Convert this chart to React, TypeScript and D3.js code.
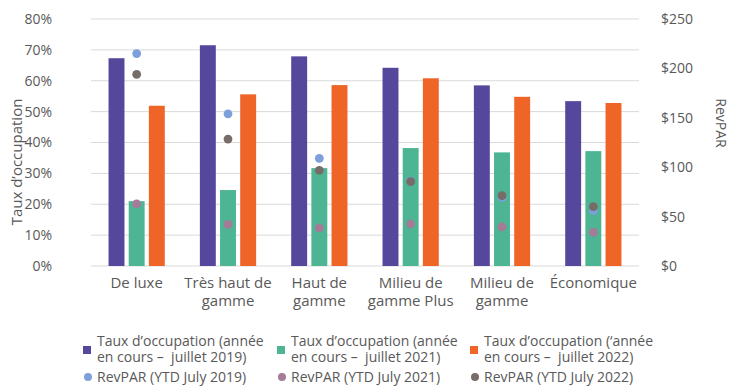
import React from "react";
import * as d3 from "d3";

const categories = ["De luxe", "Très haut de gamme", "Haut de gamme", "Milieu de gamme Plus", "Milieu de gamme", "Économique"];
const categoryLines = [["De luxe"], ["Très haut de", "gamme"], ["Haut de", "gamme"], ["Milieu de", "gamme Plus"], ["Milieu de", "gamme"], ["Économique"]];
const occ2019 = [67.3, 71.5, 67.9, 64.2, 58.5, 53.4];
const occ2021 = [21.0, 24.6, 31.7, 38.2, 36.8, 37.2];
const occ2022 = [51.9, 55.6, 58.6, 60.8, 54.8, 52.8];
const revpar2019 = [215, 154, 109, 86, 69.5, 56];
const revpar2021 = [62.8, 42.2, 38.5, 42.5, 39.5, 34.1];
const revpar2022 = [194, 128.5, 96.8, 85.3, 71.2, 60];
const leftTicks = [0, 10, 20, 30, 40, 50, 60, 70, 80];
const rightTicks = [0, 50, 100, 150, 200, 250];

const barSeries = [
  { key: "2019", values: occ2019, color: "#55489c", label: ["Taux d’occupation (année", "en cours –\u00a0 juillet 2019)"] },
  { key: "2021", values: occ2021, color: "#4db594", label: ["Taux d’occupation (année", "en cours –\u00a0 juillet 2021)"] },
  { key: "2022", values: occ2022, color: "#ef6527", label: ["Taux d’occupation (‘année", "en cours –\u00a0 juillet 2022)"] },
];
const dotSeries = [
  { key: "r2019", values: revpar2019, color: "#7d9fda", label: "RevPAR (YTD July 2019)" },
  { key: "r2021", values: revpar2021, color: "#a67b98", label: "RevPAR (YTD July 2021)" },
  { key: "r2022", values: revpar2022, color: "#786c69", label: "RevPAR (YTD July 2022)" },
];

const W = 730, H = 388;
const left = 91, right = 639, top = 19, bottom = 266;
const font = "'Open Sans', sans-serif";
const textColor = "#595959";

export default function App() {
  const x0 = d3.scaleBand<string>().domain(categories).range([left, right]).paddingInner(0.384).paddingOuter(0.192);
  const x1 = d3.scaleBand<string>().domain(barSeries.map(s => s.key)).range([0, x0.bandwidth()]).paddingInner(0.21);
  const yL = d3.scaleLinear().domain([0, 80]).range([bottom, top]);
  const yR = d3.scaleLinear().domain([0, 250]).range([bottom, top]);
  const legendCols = [83, 277, 470];
  const textOff = 14;

  return (
    <svg width={W} height={H} style={{ position: "absolute", left: 0, top: 0, background: "#fff" }} fontFamily={font}>
      {leftTicks.map(t => (
        <line key={"g" + t} x1={left} x2={right} y1={yL(t)} y2={yL(t)} stroke="#d9d9d9" strokeWidth={1} />
      ))}
      {leftTicks.map(t => (
        <text key={"l" + t} x={52} y={yL(t)} dy="0.35em" textAnchor="end" fontSize={14} fill={textColor}>{t}%</text>
      ))}
      {rightTicks.map(t => (
        <text key={"r" + t} x={661} y={yR(t)} dy="0.35em" textAnchor="start" fontSize={14} fill={textColor}>${t}</text>
      ))}
      <text transform={`translate(22,162) rotate(-90)`} textAnchor="middle" fontSize={15} fill={textColor}>Taux d’occupation</text>
      <text transform={`translate(716,123) rotate(90)`} textAnchor="middle" fontSize={14} fill={textColor}>RevPAR</text>
      {categories.map((c, i) => (
        <g key={c}>
          {barSeries.map(s => (
            <rect key={s.key} x={(x0(c) ?? 0) + (x1(s.key) ?? 0)} y={yL(s.values[i])} width={x1.bandwidth()} height={bottom - yL(s.values[i])} fill={s.color} />
          ))}
        </g>
      ))}
      {dotSeries.map(s => (
        <g key={s.key}>
          {categories.map((c, i) => (
            <circle key={c} cx={(x0(c) ?? 0) + (x1("2021") ?? 0) + x1.bandwidth() / 2} cy={yR(s.values[i])} r={4.4} fill={s.color} />
          ))}
        </g>
      ))}
      {categories.map((c, i) => (
        <text key={"c" + c} x={(x0(c) ?? 0) + x0.bandwidth() / 2} y={288} textAnchor="middle" fontSize={15} fill={textColor}>
          {categoryLines[i].map((ln, k) => (
            <tspan key={k} x={(x0(c) ?? 0) + x0.bandwidth() / 2} dy={k === 0 ? 0 : 18}>{ln}</tspan>
          ))}
        </text>
      ))}
      {barSeries.map((s, i) => (
        <g key={"lg" + s.key}>
          <rect x={legendCols[i]} y={346} width={8} height={8} fill={s.color} />
          <text x={legendCols[i] + textOff} y={346} fontSize={14} fill={textColor}>
            <tspan x={legendCols[i] + textOff} dy={0}>{s.label[0]}</tspan>
            <tspan x={legendCols[i] + textOff} dy={16}>{s.label[1]}</tspan>
          </text>
        </g>
      ))}
      {dotSeries.map((s, i) => (
        <g key={"ld" + s.key}>
          <circle cx={legendCols[i] + 5} cy={377} r={4} fill={s.color} />
          <text x={legendCols[i] + textOff} y={382} fontSize={14} fill={textColor}>{s.label}</text>
        </g>
      ))}
    </svg>
  );
}
